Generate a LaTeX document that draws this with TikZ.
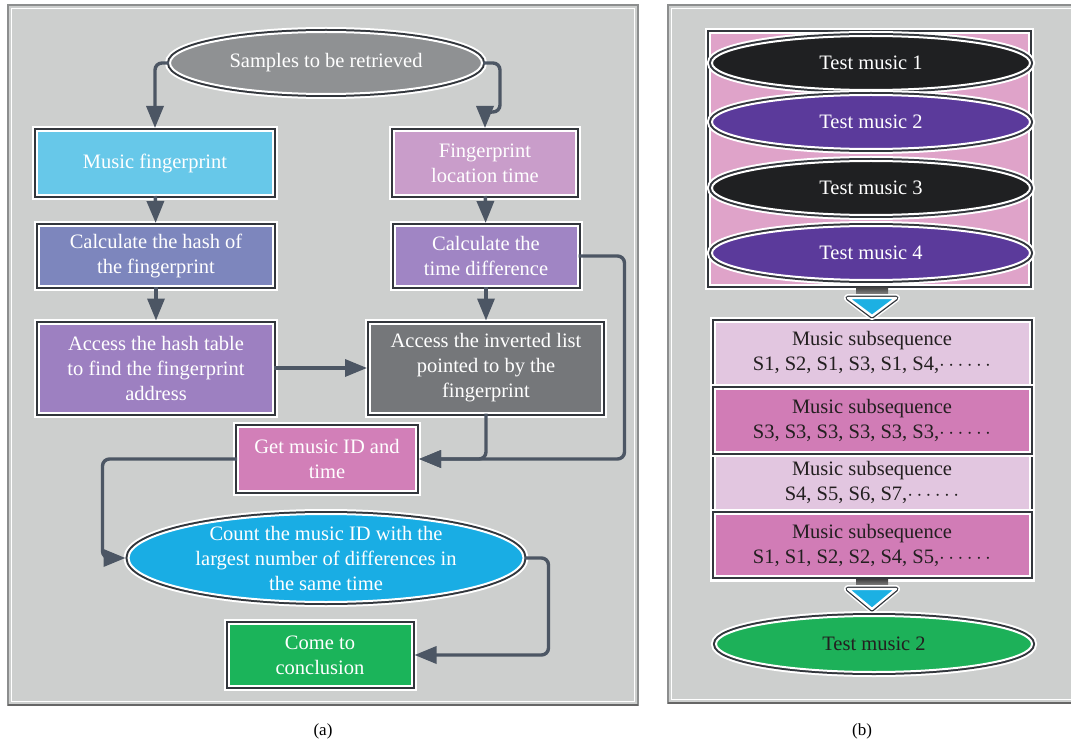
\documentclass[tikz,border=0pt]{standalone}
\usepackage{fontspec}
\setmainfont{Liberation Serif}
\usetikzlibrary{arrows.meta,calc,shapes.geometric}

\definecolor{panelbg}{RGB}{205,207,206}
\definecolor{panelline}{RGB}{140,142,142}
\definecolor{framecol}{RGB}{50,54,60}
\definecolor{flowcol}{RGB}{76,86,100}
\definecolor{samplegrey}{RGB}{143,145,147}
\definecolor{fpcyan}{RGB}{103,200,233}
\definecolor{locpink}{RGB}{201,157,202}
\definecolor{hashblue}{RGB}{125,134,189}
\definecolor{tdiffpurple}{RGB}{160,133,196}
\definecolor{tablepurple}{RGB}{157,128,193}
\definecolor{invgrey}{RGB}{117,119,122}
\definecolor{getpink}{RGB}{210,127,184}
\definecolor{countblue}{RGB}{25,173,228}
\definecolor{conclgreen}{RGB}{27,180,90}
\definecolor{darkoval}{RGB}{31,32,34}
\definecolor{purpoval}{RGB}{91,58,155}
\definecolor{backpink}{RGB}{223,163,201}
\definecolor{sublight}{RGB}{226,198,224}
\definecolor{subdark}{RGB}{209,124,182}
\definecolor{tipcyan}{RGB}{28,176,227}
\definecolor{textdark}{RGB}{35,31,32}
\definecolor{finalgreen}{RGB}{29,177,89}

\tikzset{
	framed/.style={draw=white, line width=2pt,
		preaction={draw=white, line width=10pt},
		preaction={draw=framecol, line width=6pt}},
	box/.style={framed, rectangle, align=center, text=white, inner sep=0pt,
		font=\fontsize{20.5}{25}\selectfont},
	oval/.style={box, ellipse},
	plaintext/.style={align=center, text=textdark, inner sep=0pt,
		font=\fontsize{20.5}{25}\selectfont},
	flow/.style={draw=flowcol, line width=3.4pt, rounded corners=7pt, shorten >=2pt,
		-{Triangle[length=22pt,width=17pt]}},
	tipframe/.style={draw=white, line width=2.4pt, line join=round,
		preaction={draw=white, line width=8pt, line join=round},
		preaction={draw=framecol, line width=5pt, line join=round}},
}

\begin{document}
\begin{tikzpicture}[x=1pt, y=-1pt]
		%%%%% START %%%%%
		\useasboundingbox (0,0) rectangle (1071,746);
		
		% panels
		\fill[panelbg] (8,5) rectangle (638,705);
		\draw[panelline, line width=1.2pt] (8,5) rectangle (638,705);
		\draw[white, line width=1.2pt] (11.5,8.5) rectangle (634.5,701.5);
		\draw[black!60, line width=1.5pt] (8,705) -- (638,705);
		\fill[panelbg] (668,5) rectangle (1080,703);
		\draw[panelline, line width=1.2pt] (668,5) rectangle (1080,703);
		\draw[white, line width=1.2pt] (671.5,8.5) rectangle (1080,699.5);
		\draw[black!60, line width=1.5pt] (668,703) -- (1080,703);
		
		% panel (a)
		\node[oval, fill=samplegrey, minimum width=312pt, minimum height=62pt] (samples) at (326,63) {Samples to be retrieved};
		
		\node[box, fill=fpcyan, minimum width=236pt, minimum height=64pt] (musicfp) at (155,163) {Music fingerprint};
		\node[box, fill=locpink, minimum width=182pt, minimum height=64pt] (locfp) at (485,163) {Fingerprint\\location time};
		
		\node[box, fill=hashblue, minimum width=234pt, minimum height=60pt] (hash) at (156,256) {Calculate the hash of\\the fingerprint};
		\node[box, fill=tdiffpurple, minimum width=183pt, minimum height=60pt] (tdiff) at (486,256) {Calculate the\\time difference};
		
		\node[box, fill=tablepurple, minimum width=234pt, minimum height=89pt] (table) at (156,368) {Access the hash table\\to find the fingerprint\\address};
		\node[box, fill=invgrey, minimum width=232pt, minimum height=89pt] (inverted) at (486,368) {Access the inverted list\\pointed to by the\\fingerprint};
		
		\node[box, fill=getpink, minimum width=178pt, minimum height=64pt] (getid) at (327,459) {Get music ID and\\time};
		
		\node[oval, fill=countblue, inner sep=-3pt, minimum width=395pt, minimum height=88pt] (count) at (326,558) {Count the music ID with the\\largest number of differences in\\the same time};
		
		\node[box, fill=conclgreen, minimum width=183pt, minimum height=62pt] (concl) at (320,655) {Come to\\conclusion};
		
		\draw[flow] (samples.west) -| (musicfp.north);
		\draw[flow] (samples.east) -| ($(locfp.north)+(15,-18)$) -| (locfp.north);
		\draw[flow] (musicfp) -- (hash);
		\draw[flow] (locfp) -- (tdiff);
		\draw[flow] (hash) -- (table);
		\draw[flow] (tdiff) -- (inverted);
		\draw[flow] (table) -- (inverted);
		\draw[flow] (tdiff.east) -- ++(46,0) |- (getid.east);
		\draw[flow] (inverted.south) |- (getid.east);
		\draw[flow] (getid.west) -| ($(count.west)+(-25,0)$) -- (count.west);
		\draw[flow] (count.east) -- ++(24,0) |- (concl.east);
		
		% panel (b)
		\node[box, fill=backpink, minimum width=319pt, minimum height=252pt] (stack) at (869,159) {};
		\node[oval, fill=darkoval, minimum width=318pt, minimum height=54pt] (test1) at (871,63) {Test music 1};
		\node[oval, fill=purpoval, minimum width=318pt, minimum height=54pt] (test2) at (871,122) {Test music 2};
		\node[oval, fill=darkoval, minimum width=318pt, minimum height=54pt] (test3) at (871,188) {Test music 3};
		\node[oval, fill=purpoval, minimum width=318pt, minimum height=54pt] (test4) at (871,253) {Test music 4};
		
		\node[box, fill=sublight, minimum width=315pt, minimum height=255pt] (subs) at (872,449.5) {};
		\node[plaintext] (sub1) at (872,352) {Music subsequence\\S1, S2, S1, S3, S1, S4,$\cdots\cdots$};
		\node[box, fill=subdark, text=textdark, minimum width=315pt, minimum height=63pt] (sub2) at (872,420) {Music subsequence\\S3, S3, S3, S3, S3, S3,$\cdots\cdots$};
		\node[plaintext] (sub3) at (872,482) {Music subsequence\\S4, S5, S6, S7,$\cdots\cdots$};
		\node[box, fill=subdark, text=textdark, minimum width=315pt, minimum height=62pt] (sub4) at (872,545) {Music subsequence\\S1, S1, S2, S2, S4, S5,$\cdots\cdots$};
		
		\node[oval, fill=finalgreen, text=textdark, minimum width=316pt, minimum height=56pt] (final) at (874,644) {Test music 2};
		
		\shade[top color=black!75, bottom color=black!30] ($(subs.north)+(-16,-34)$) rectangle ($(subs.north)+(16,-22)$);
		\draw[tipframe, fill=tipcyan] ($(subs.north)+(-24,-23)$) -- ($(subs.north)+(24,-23)$) -- ($(subs.north)+(0,-5)$) -- cycle;
		\shade[top color=black!75, bottom color=black!30] ($(subs.south)+(-16,1)$) rectangle ($(subs.south)+(16,12)$);
		\draw[tipframe, fill=tipcyan] ($(subs.south)+(-24,11)$) -- ($(subs.south)+(24,11)$) -- ($(subs.south)+(0,31)$) -- cycle;
		
		% captions
		\node[font=\fontsize{17}{19}\selectfont] (capa) at (323,731) {(a)};
		\node[font=\fontsize{17}{19}\selectfont] (capb) at (862,731) {(b)};
		%%%%% END %%%%%
\end{tikzpicture}
\end{document}
